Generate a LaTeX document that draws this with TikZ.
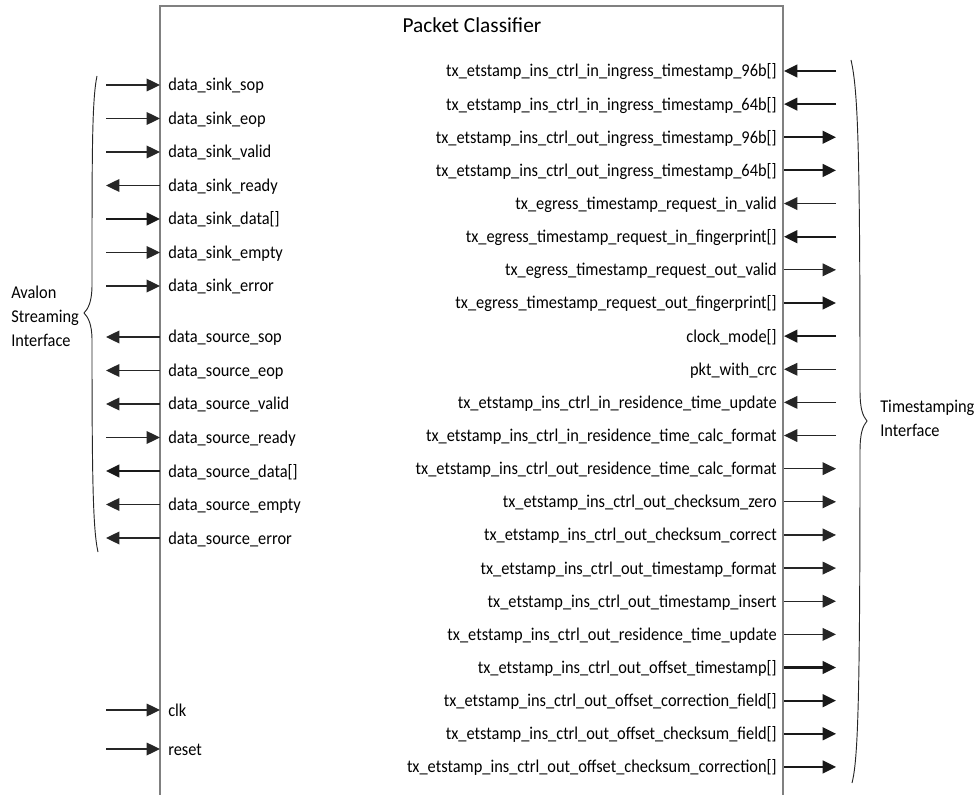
\documentclass[tikz,border=0pt]{standalone}
\usepackage{fontspec}
\setmainfont{Carlito}
\newfontfamily\sigf{Carlito}[FakeStretch=0.91]
\usetikzlibrary{arrows.meta}
\begin{document}
\begin{tikzpicture}[x=0.75pt,y=-0.75pt,
  sigfont/.style={font=\sigf\fontsize{13.5}{16}\selectfont, inner sep=0pt, text=black},
  lsig/.style={sigfont, anchor=base west},
  rsig/.style={sigfont, anchor=base east},
  thinw/.style={draw=black!85, line width=0.95pt},
  busw/.style={draw=black!90, line width=1.6pt},
  toBox/.style={-{Triangle[length=10pt,width=9.5pt]}},
  fromBox/.style={{Triangle[length=10pt,width=9.5pt]}-},
  bracew/.style={draw=black!85, line width=0.7pt},
  boxw/.style={draw=black!50, line width=1.1pt}
]
\useasboundingbox (0,0) rectangle (976,795);
% block outline (open at the bottom)
\draw[boxw] (160,795) -- (160,6) -- (783,6) -- (783,795);
\node[font=\fontsize{16}{19}\selectfont, anchor=base, inner sep=0pt] (title) at (472,33) {Packet Classifier};

% left side signals
\foreach \y/\txt/\dir/\w [count=\i] in {
  85/data\_sink\_sop/toBox/thinw,
  118.5/data\_sink\_eop/toBox/thinw,
  152/data\_sink\_valid/toBox/thinw,
  185.5/data\_sink\_ready/fromBox/thinw,
  219/data\_sink\_data[]/toBox/busw,
  252.5/data\_sink\_empty/toBox/thinw,
  286/data\_sink\_error/toBox/thinw,
  337/data\_source\_sop/fromBox/thinw,
  370.5/data\_source\_eop/fromBox/thinw,
  404/data\_source\_valid/fromBox/thinw,
  437.5/data\_source\_ready/toBox/thinw,
  471/data\_source\_data[]/fromBox/busw,
  504.5/data\_source\_empty/fromBox/thinw,
  538/data\_source\_error/fromBox/thinw,
  710/clk/toBox/thinw,
  749/reset/toBox/thinw}{
  \coordinate (lo\i) at (106,\y);
  \coordinate (lb\i) at (160,\y);
  \node[lsig] (ls\i) at (168,\y+6) {\txt};
  \draw[\w,\dir] (lo\i) -- (lb\i);
}

% right side signals
\foreach \txt/\dir/\w [count=\i] in {
  tx\_etstamp\_ins\_ctrl\_in\_ingress\_timestamp\_96b[]/toBox/busw,
  tx\_etstamp\_ins\_ctrl\_in\_ingress\_timestamp\_64b[]/toBox/busw,
  tx\_etstamp\_ins\_ctrl\_out\_ingress\_timestamp\_96b[]/fromBox/busw,
  tx\_etstamp\_ins\_ctrl\_out\_ingress\_timestamp\_64b[]/fromBox/busw,
  tx\_egress\_timestamp\_request\_in\_valid/toBox/thinw,
  tx\_egress\_timestamp\_request\_in\_fingerprint[]/toBox/busw,
  tx\_egress\_timestamp\_request\_out\_valid/fromBox/thinw,
  tx\_egress\_timestamp\_request\_out\_fingerprint[]/fromBox/busw,
  clock\_mode[]/toBox/busw,
  pkt\_with\_crc/toBox/thinw,
  tx\_etstamp\_ins\_ctrl\_in\_residence\_time\_update/toBox/thinw,
  tx\_etstamp\_ins\_ctrl\_in\_residence\_time\_calc\_format/toBox/thinw,
  tx\_etstamp\_ins\_ctrl\_out\_residence\_time\_calc\_format/fromBox/thinw,
  tx\_etstamp\_ins\_ctrl\_out\_checksum\_zero/fromBox/thinw,
  tx\_etstamp\_ins\_ctrl\_out\_checksum\_correct/fromBox/thinw,
  tx\_etstamp\_ins\_ctrl\_out\_timestamp\_format/fromBox/thinw,
  tx\_etstamp\_ins\_ctrl\_out\_timestamp\_insert/fromBox/thinw,
  tx\_etstamp\_ins\_ctrl\_out\_residence\_time\_update/fromBox/thinw,
  tx\_etstamp\_ins\_ctrl\_out\_offset\_timestamp[]/fromBox/busw,
  tx\_etstamp\_ins\_ctrl\_out\_offset\_correction\_field[]/fromBox/busw,
  tx\_etstamp\_ins\_ctrl\_out\_offset\_checksum\_field[]/fromBox/busw,
  tx\_etstamp\_ins\_ctrl\_out\_offset\_checksum\_correction[]/fromBox/busw}{
  \pgfmathsetmacro{\yy}{71+33.14*(\i-1)}
  \coordinate (ro\i) at (836,\yy);
  \coordinate (rb\i) at (784,\yy);
  \node[rsig] (rs\i) at (777,\yy+6) {\txt};
  \draw[\w,\dir] (ro\i) -- (rb\i);
}

% braces
\draw[bracew] (97,76) .. controls (92,100) and (92,150) .. (92,285)
  .. controls (92,302) and (88,309) .. (84,313)
  .. controls (88,317) and (92,324) .. (92,340)
  .. controls (92,480) and (93,530) .. (98,552);
\draw[bracew] (851,60) .. controls (858,90) and (860,150) .. (860,390)
  .. controls (860,410) and (863,416) .. (867,421)
  .. controls (863,426) and (860,432) .. (860,452)
  .. controls (860,700) and (858,760) .. (852,783);

\node[sigfont, align=left, anchor=west, font=\sigf\fontsize{13.5}{18}\selectfont] (avalon) at (11,316) {Avalon\\Streaming\\Interface};
\node[sigfont, align=left, anchor=west, font=\sigf\fontsize{13.5}{18}\selectfont] (tsif) at (880,418) {Timestamping\\Interface};
\end{tikzpicture}
\end{document}
